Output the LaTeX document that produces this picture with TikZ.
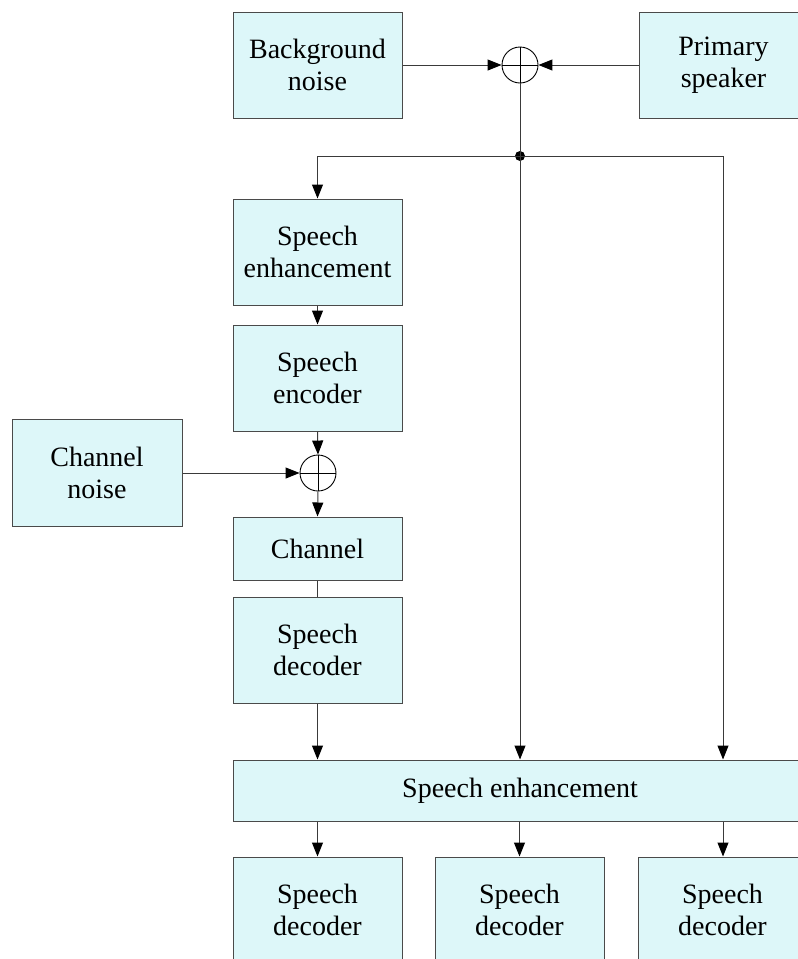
\documentclass[tikz,border=0pt]{standalone}
\usepackage{fontspec}
\setmainfont{Liberation Serif}
\usetikzlibrary{arrows.meta,positioning}
\definecolor{boxfill}{HTML}{DDF7F9}
\definecolor{boxline}{HTML}{4A4A4A}
\definecolor{wireline}{HTML}{3A3A3A}
\begin{document}
\begin{tikzpicture}[x=1pt,y=-1pt,
  blk/.style={draw=boxline,fill=boxfill,line width=1pt,minimum width=169pt,minimum height=106pt,
    inner sep=0pt,align=center,font=\fontsize{28}{32}\selectfont},
  sumnode/.style={draw=black,circle,line width=0.9pt,minimum size=36pt,inner sep=0pt},
  wire/.style={draw=wireline,line width=1pt},
  arr/.style={wire,-{Triangle[length=14pt,width=11pt,color=black]}}]
\useasboundingbox (0,0) rectangle (798,959);
\clip (0,0) rectangle (798,959);
% blocks
\node[blk] (bg) at (317.5,65) {Background\\noise};
\node[blk] (ps) at (723.5,65) {Primary\\speaker};
\node[blk] (enh) at (317.5,252) {Speech\\enhancement};
\node[blk] (enc) at (317.5,378) {Speech\\encoder};
\node[blk,minimum width=170pt,minimum height=107pt] (cn) at (97,472.5) {Channel\\noise};
\node[blk,minimum height=63pt] (chan) at (317.5,548.5) {Channel};
\node[blk] (dec) at (317.5,650) {Speech\\decoder};
\node[blk,minimum width=574pt,minimum height=61pt] (big) at (520,790.5) {Speech enhancement};
\node[blk] (d1) at (317.5,910) {Speech\\decoder};
\node[blk] (d2) at (519.5,910) {Speech\\decoder};
\node[blk] (d3) at (722.5,910) {Speech\\decoder};
% summing junctions
\node[sumnode] (s1) at (520,65) {};
\draw[line width=0.9pt] (s1.north) -- (s1.south) (s1.west) -- (s1.east);
\node[sumnode] (s2) at (318,473) {};
\draw[line width=0.9pt] (s2.north) -- (s2.south) (s2.west) -- (s2.east);
% junction point
\coordinate (j) at (520,156);
\coordinate (jl) at (317.5,156);
\coordinate (jr) at (723,156);
\fill (j) circle (5pt);
% connectors
\draw[arr] (bg.east) -- (s1.west);
\draw[arr] (ps.west) -- (s1.east);
\draw[wire] (s1.south) -- (j);
\draw[arr] (j) -- (j |- big.north);
\draw[arr] (j) -- (jl) -- (enh.north);
\draw[arr] (j) -- (jr) -- (jr |- big.north);
\draw[arr] (enh.south) -- (enc.north);
\draw[arr] (enc.south) -- (s2.north);
\draw[arr] (cn.east |- s2.west) -- (s2.west);
\draw[arr] (s2.south) -- (chan.north);
\draw[wire] (chan.south) -- (dec.north);
\draw[arr] (dec.south) -- (dec.south |- big.north);
\draw[arr] (d1.north |- big.south) -- (d1.north);
\draw[arr] (d2.north |- big.south) -- (d2.north);
\draw[arr] (jr |- big.south) -- (jr |- d3.north);
\end{tikzpicture}
\end{document}
